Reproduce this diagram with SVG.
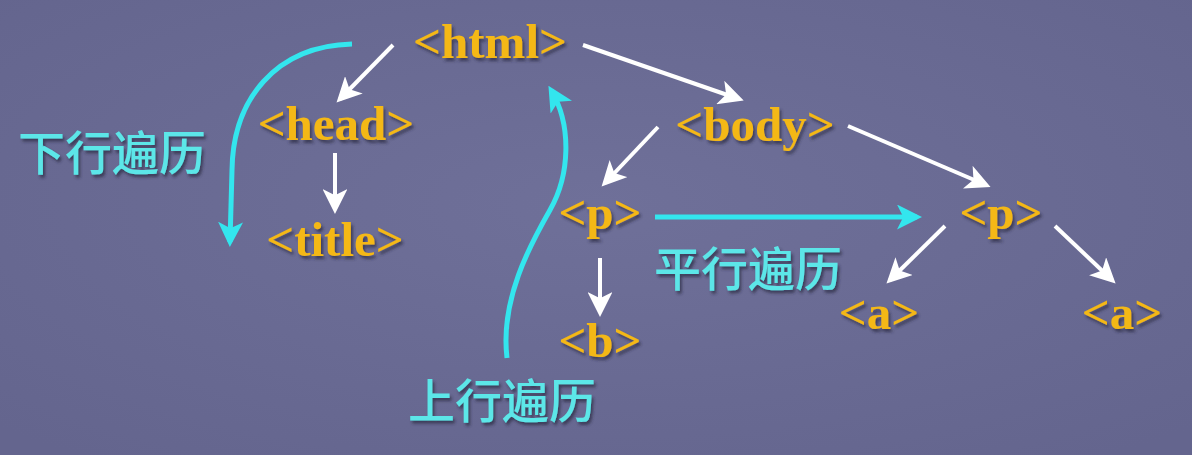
<svg xmlns="http://www.w3.org/2000/svg" width="1192" height="455" viewBox="0 0 1192 455">
<style>
.tag{font-family:"Liberation Serif","Times New Roman",serif;font-weight:bold;font-size:49px;fill:#f4b813;filter:url(#sh)}
.cn{font-family:"Noto Sans CJK SC","Noto Sans",sans-serif;font-weight:500;font-size:47px;fill:#5ce6e8;filter:url(#sh)}
.w{stroke:#ffffff;stroke-width:4;fill:none;marker-end:url(#wa)}
.c{stroke:#33e6ee;stroke-width:5;fill:none;marker-end:url(#ca)}
</style>
<defs>
<filter id="sh" x="-10%" y="-10%" width="130%" height="140%">
<feDropShadow dx="2" dy="3" stdDeviation="1.5" flood-color="#2a2a40" flood-opacity="0.7"/>
</filter>
<marker id="wa" viewBox="0 0 10 10" refX="8" refY="5" markerWidth="6.2" markerHeight="6.2" orient="auto" markerUnits="strokeWidth">
<path d="M0,0 L10,5 L0,10 L2.5,5 Z" fill="#ffffff"/>
</marker>
<marker id="ca" viewBox="0 0 10 10" refX="8" refY="5" markerWidth="5" markerHeight="5" orient="auto" markerUnits="strokeWidth">
<path d="M0,0 L10,5 L0,10 L2.5,5 Z" fill="#33e6ee"/>
</marker>
<radialGradient id="bg" cx="50%" cy="45%" r="70%">
<stop offset="0" stop-color="#6f7099"/>
<stop offset="1" stop-color="#64658e"/>
</radialGradient>
</defs>
<rect width="1192" height="455" fill="url(#bg)"/>
<g id="connectors">
<line class="w" x1="393" y1="45" x2="340" y2="99"/>
<line class="w" x1="335" y1="153" x2="335" y2="209"/>
<line class="w" x1="583" y1="45" x2="739" y2="99"/>
<line class="w" x1="658" y1="127" x2="605" y2="183"/>
<line class="w" x1="848" y1="126" x2="986" y2="185"/>
<line class="w" x1="600" y1="258" x2="600" y2="312"/>
<line class="w" x1="945" y1="226" x2="890" y2="280"/>
<line class="w" x1="1055" y1="226" x2="1112" y2="280"/>
<path class="c" d="M352,44 C275,46 233,100 232,170 L230,242"/>
<path class="c" d="M507,358 C500,300 530,245 550,210 C570,175 572,125 551,90"/>
<line class="c" x1="655" y1="217" x2="917" y2="217"/>
</g>
<g id="html"><text class="tag" x="490" y="58" text-anchor="middle">&lt;html&gt;</text></g>
<g id="head"><text class="tag" x="336" y="140" text-anchor="middle">&lt;head&gt;</text></g>
<g id="title"><text class="tag" x="335" y="256" text-anchor="middle">&lt;title&gt;</text></g>
<g id="body"><text class="tag" x="755" y="141" text-anchor="middle">&lt;body&gt;</text></g>
<g id="p1"><text class="tag" x="600" y="229" text-anchor="middle">&lt;p&gt;</text></g>
<g id="p2"><text class="tag" x="1001" y="229" text-anchor="middle">&lt;p&gt;</text></g>
<g id="b"><text class="tag" x="600" y="357" text-anchor="middle">&lt;b&gt;</text></g>
<g id="a1"><text class="tag" x="879" y="329" text-anchor="middle">&lt;a&gt;</text></g>
<g id="a2"><text class="tag" x="1122" y="329" text-anchor="middle">&lt;a&gt;</text></g>
<g id="down-label"><text class="cn" x="112" y="170" text-anchor="middle">下行遍历</text></g>
<g id="parallel-label"><text class="cn" x="748" y="286" text-anchor="middle">平行遍历</text></g>
<g id="up-label"><text class="cn" x="502" y="418" text-anchor="middle">上行遍历</text></g>
</svg>
